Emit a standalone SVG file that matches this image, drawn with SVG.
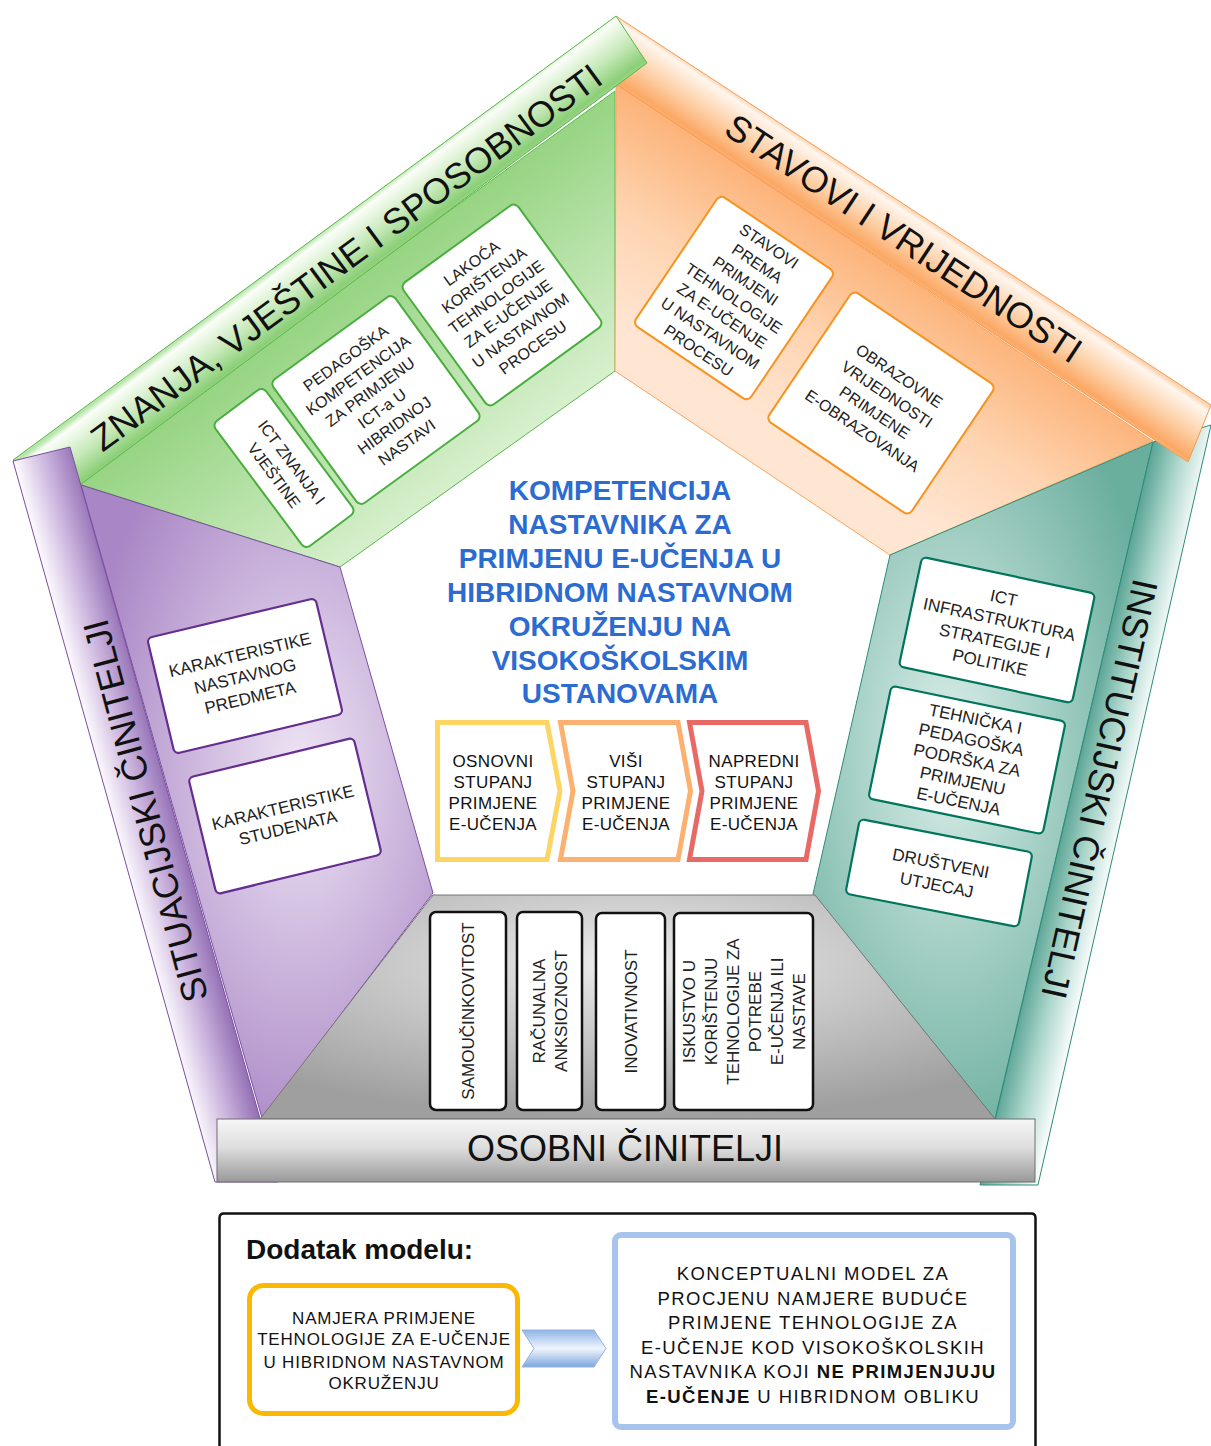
<svg xmlns="http://www.w3.org/2000/svg" width="1211" height="1446" viewBox="0 0 1211 1446">
<style>
  text { font-family: "Liberation Sans", Arial, sans-serif; }
  .bt { font-size: 16px; fill: #222; text-anchor: middle; }
  .bt17 { font-size: 17px; fill: #222; text-anchor: middle; }
  .band { font-size: 36px; fill: #111; text-anchor: middle; }
  .title { font-size: 28px; font-weight: bold; fill: #2c6bd1; text-anchor: middle; }
  .stage { font-size: 17px; fill: #111; text-anchor: middle; letter-spacing: 0.4px; }
  .gbox { fill: #fff; stroke: #4aae3f; stroke-width: 2; }
  .obox { fill: #fff; stroke: #f7931e; stroke-width: 2; }
  .pbox { fill: #fff; stroke: #642d8f; stroke-width: 2.2; }
  .tbox { fill: #fff; stroke: #00755b; stroke-width: 2.2; }
  .kbox { fill: #fff; stroke: #111; stroke-width: 2.5; }
  .add { font-size: 17px; fill: #111; text-anchor: middle; letter-spacing: 0.8px; }
  .add2 { font-size: 18.5px; fill: #111; text-anchor: middle; letter-spacing: 1.4px; }
</style>
<defs>
  <linearGradient id="gBand" gradientUnits="userSpaceOnUse" x1="314" y1="238" x2="350" y2="286">
    <stop offset="0" stop-color="#b9e4ab"/>
    <stop offset="0.1" stop-color="#fbfef9"/>
    <stop offset="0.55" stop-color="#c6e9b8"/>
    <stop offset="0.92" stop-color="#8ccf78"/>
    <stop offset="1" stop-color="#9ad688"/>
  </linearGradient>
  <linearGradient id="oBand" gradientUnits="userSpaceOnUse" x1="904" y1="204" x2="871" y2="254">
    <stop offset="0" stop-color="#fcd2ad"/>
    <stop offset="0.1" stop-color="#fff6ee"/>
    <stop offset="0.55" stop-color="#fdcfa4"/>
    <stop offset="0.92" stop-color="#fba865"/>
    <stop offset="1" stop-color="#fbb479"/>
  </linearGradient>
  <linearGradient id="pBand" gradientUnits="userSpaceOnUse" x1="111" y1="811" x2="169" y2="795">
    <stop offset="0" stop-color="#fbf9fd"/>
    <stop offset="0.5" stop-color="#ccb5de"/>
    <stop offset="1" stop-color="#9673b7"/>
  </linearGradient>
  <linearGradient id="tBand" gradientUnits="userSpaceOnUse" x1="1129" y1="789" x2="1074" y2="776">
    <stop offset="0" stop-color="#f6fbfa"/>
    <stop offset="0.5" stop-color="#acd6cb"/>
    <stop offset="1" stop-color="#5aa494"/>
  </linearGradient>
  <linearGradient id="gPanel" gradientUnits="userSpaceOnUse" x1="347" y1="285" x2="483" y2="470">
    <stop offset="0" stop-color="#96d482"/>
    <stop offset="1" stop-color="#d8f0ce"/>
  </linearGradient>
  <linearGradient id="oPanel" gradientUnits="userSpaceOnUse" x1="880" y1="260" x2="771" y2="428">
    <stop offset="0" stop-color="#fcb47b"/>
    <stop offset="0.5" stop-color="#fed4b1"/>
    <stop offset="1" stop-color="#ffe6d3"/>
  </linearGradient>
  <radialGradient id="pPanel" cx="0.62" cy="0.45" r="0.62">
    <stop offset="0" stop-color="#eee5f4"/>
    <stop offset="1" stop-color="#a986c5"/>
  </radialGradient>
  <radialGradient id="tPanel" cx="0.4" cy="0.45" r="0.62">
    <stop offset="0" stop-color="#daeee9"/>
    <stop offset="1" stop-color="#6aae9e"/>
  </radialGradient>
  <radialGradient id="kPanel" cx="0.5" cy="0.3" r="0.7">
    <stop offset="0" stop-color="#ececec"/>
    <stop offset="1" stop-color="#9f9f9f"/>
  </radialGradient>
  <linearGradient id="kBar" x1="0" y1="0" x2="0" y2="1">
    <stop offset="0" stop-color="#f6f6f6"/>
    <stop offset="0.45" stop-color="#dedede"/>
    <stop offset="1" stop-color="#999"/>
  </linearGradient>
  <linearGradient id="arrowG" x1="0" y1="0" x2="0" y2="1">
    <stop offset="0" stop-color="#8fb3e6"/>
    <stop offset="0.5" stop-color="#f0f5fd"/>
    <stop offset="1" stop-color="#7ea6df"/>
  </linearGradient>
</defs>

<!-- panels -->
<g id="panels">
  <polygon id="panel-green" points="79,479 615,91 615,371 340,567 82,485" fill="url(#gPanel)" stroke="#5cb84c" stroke-width="1"/>
  <polygon id="panel-orange" points="616,84 1153,441 890,555 615,371" fill="url(#oPanel)" stroke="#f7a35c" stroke-width="1"/>
  <polygon id="panel-teal" points="890,555 1153,442 995,1119 813,894" fill="url(#tPanel)" stroke="#2e8c78" stroke-width="1"/>
  <polygon id="panel-purple" points="81,485 340,567 433,893 262,1118" fill="url(#pPanel)" stroke="#7b4fa0" stroke-width="1"/>
  <polygon id="panel-gray" points="433,895 815,895 995,1119 260,1119" fill="url(#kPanel)" stroke="#777" stroke-width="1"/>
</g>

<!-- spines -->
<g id="spine-teal">
  <polygon points="1153,442 1211,425 1038,1185 980,1185" fill="url(#tBand)" stroke="#2e8c78" stroke-width="1"/>
  <text class="band" font-size="37" transform="translate(1100,789) rotate(102.5)" y="13">INSTITUCIJSKI ČINITELJI</text>
</g>
<g id="spine-orange">
  <polygon points="616,16 1211,405 1188,462 616,84" fill="url(#oBand)" stroke="#f79a4e" stroke-width="1"/>
  <text class="band" font-size="36.5" transform="translate(904,238) rotate(33.5)" y="13">STAVOVI I VRIJEDNOSTI</text>
</g>
<g id="spine-green">
  <polygon points="13,460 616,16 647,63 49,508" fill="url(#gBand)" stroke="#5cb84c" stroke-width="1"/>
  <text class="band" transform="translate(346,257) rotate(-36.4)" y="13">ZNANJA, VJEŠTINE I SPOSOBNOSTI</text>
</g>
<g id="spine-purple">
  <polygon points="13,461 70,447 278,1182 215,1182" fill="url(#pBand)" stroke="#7b4fa0" stroke-width="1"/>
  <text class="band" transform="translate(145,811) rotate(-105)" y="13">SITUACIJSKI ČINITELJI</text>
</g>
<g id="spine-gray">
  <rect x="217" y="1119" width="818" height="63" fill="url(#kBar)" stroke="#6e6e6e" stroke-width="1"/>
  <text class="band" font-size="38" x="625" y="1161">OSOBNI ČINITELJI</text>
</g>

<!-- green boxes -->
<g id="box-ict-znanja" transform="translate(284,468) rotate(53.3)">
  <rect class="gbox" x="-78" y="-31.5" width="156" height="63" rx="6"/>
  <text class="bt" font-size="17" y="-4">ICT ZNANJA I</text>
  <text class="bt" font-size="17" y="18">VJEŠTINE</text>
</g>
<g id="box-pedagoska" transform="translate(376,400) rotate(-36)">
  <rect class="gbox" x="-75.5" y="-76.5" width="151" height="153" rx="6"/>
  <text class="bt" y="-46">PEDAGOŠKA</text>
  <text class="bt" y="-25">KOMPETENCIJA</text>
  <text class="bt" y="-4.5">ZA PRIMJENU</text>
  <text class="bt" y="16">ICT-a U</text>
  <text class="bt" y="37">HIBRIDNOJ</text>
  <text class="bt" y="58">NASTAVI</text>
</g>
<g id="box-lakoca" transform="translate(502,305) rotate(-36)">
  <rect class="gbox" x="-71" y="-75.5" width="142" height="151" rx="6"/>
  <text class="bt" y="-46">LAKOĆA</text>
  <text class="bt" y="-25">KORIŠTENJA</text>
  <text class="bt" y="-4.5">TEHNOLOGIJE</text>
  <text class="bt" y="16">ZA E-UČENJE</text>
  <text class="bt" y="37">U NASTAVNOM</text>
  <text class="bt" y="58">PROCESU</text>
</g>

<!-- orange boxes -->
<g id="box-stavovi" transform="translate(734,298) rotate(34)">
  <rect class="obox" x="-69.5" y="-78" width="139" height="156" rx="6"/>
  <text class="bt" y="-57">STAVOVI</text>
  <text class="bt" y="-36">PREMA</text>
  <text class="bt" y="-15">PRIMJENI</text>
  <text class="bt" y="6">TEHNOLOGIJE</text>
  <text class="bt" y="27">ZA E-UČENJE</text>
  <text class="bt" y="48">U NASTAVNOM</text>
  <text class="bt" y="69">PROCESU</text>
</g>
<g id="box-obrazovne" transform="translate(881,403) rotate(34)">
  <rect class="obox" x="-86" y="-78" width="172" height="156" rx="6"/>
  <text class="bt" y="-27">OBRAZOVNE</text>
  <text class="bt" y="-5">VRIJEDNOSTI</text>
  <text class="bt" y="17">PRIMJENE</text>
  <text class="bt" y="39">E-OBRAZOVANJA</text>
</g>

<!-- teal boxes -->
<g id="box-ict-infra" transform="translate(997,630) rotate(12)">
  <rect class="tbox" x="-88.5" y="-56" width="177" height="112" rx="5"/>
  <text class="bt17" y="-27">ICT</text>
  <text class="bt17" y="-5">INFRASTRUKTURA</text>
  <text class="bt17" y="17">STRATEGIJE I</text>
  <text class="bt17" y="39">POLITIKE</text>
</g>
<g id="box-tehnicka" transform="translate(967,760) rotate(11.6)">
  <rect class="tbox" x="-89" y="-57.5" width="178" height="115" rx="5"/>
  <text class="bt17" y="-36">TEHNIČKA I</text>
  <text class="bt17" y="-15">PEDAGOŠKA</text>
  <text class="bt17" y="6">PODRŠKA ZA</text>
  <text class="bt17" y="27">PRIMJENU</text>
  <text class="bt17" y="48">E-UČENJA</text>
</g>
<g id="box-drustveni" transform="translate(939,873) rotate(11)">
  <rect class="tbox" x="-88" y="-38" width="176" height="76" rx="5"/>
  <text class="bt17" y="-4">DRUŠTVENI</text>
  <text class="bt17" y="18">UTJECAJ</text>
</g>

<!-- purple boxes -->
<g id="box-predmet" transform="translate(245,676) rotate(-13.4)">
  <rect class="pbox" x="-86.5" y="-59.5" width="173" height="119" rx="5"/>
  <text class="bt17" y="-16">KARAKTERISTIKE</text>
  <text class="bt17" y="6">NASTAVNOG</text>
  <text class="bt17" y="28">PREDMETA</text>
</g>
<g id="box-studenti" transform="translate(285,816) rotate(-13.6)">
  <rect class="pbox" x="-85" y="-60" width="170" height="120" rx="5"/>
  <text class="bt17" y="-3">KARAKTERISTIKE</text>
  <text class="bt17" y="18">STUDENATA</text>
</g>

<!-- gray boxes -->
<g id="box-samoucinkovitost">
  <rect class="kbox" x="430" y="912" width="76" height="198" rx="6"/>
  <text class="bt17" transform="translate(468,1011) rotate(-90)" y="6">SAMOUČINKOVITOST</text>
</g>
<g id="box-anksioznost">
  <rect class="kbox" x="517" y="912" width="65" height="198" rx="6"/>
  <g transform="translate(549.5,1011) rotate(-90)">
    <text class="bt17" y="-5">RAČUNALNA</text>
    <text class="bt17" y="17">ANKSIOZNOST</text>
  </g>
</g>
<g id="box-inovativnost">
  <rect class="kbox" x="596" y="913" width="69" height="197" rx="6"/>
  <text class="bt17" transform="translate(630.5,1011.5) rotate(-90)" y="6">INOVATIVNOST</text>
</g>
<g id="box-iskustvo">
  <rect class="kbox" x="674" y="913" width="139" height="197" rx="6"/>
  <g transform="translate(743.5,1011.5) rotate(-90)">
    <text class="bt17" y="-49">ISKUSTVO U</text>
    <text class="bt17" y="-27">KORIŠTENJU</text>
    <text class="bt17" y="-5">TEHNOLOGIJE ZA</text>
    <text class="bt17" y="17">POTREBE</text>
    <text class="bt17" y="39">E-UČENJA ILI</text>
    <text class="bt17" y="61">NASTAVE</text>
  </g>
</g>

<!-- title -->
<g id="title">
  <text class="title" x="620" y="500">KOMPETENCIJA</text>
  <text class="title" x="620" y="534">NASTAVNIKA ZA</text>
  <text class="title" x="620" y="568">PRIMJENU E-UČENJA U</text>
  <text class="title" x="620" y="602">HIBRIDNOM NASTAVNOM</text>
  <text class="title" x="620" y="636">OKRUŽENJU NA</text>
  <text class="title" x="620" y="670">VISOKOŠKOLSKIM</text>
  <text class="title" x="620" y="703">USTANOVAMA</text>
</g>

<!-- stages -->
<g id="stage-osnovni">
  <path d="M437.5,722.5 H547 L560,791 L547,859.5 H437.5 Z" fill="#fff" stroke="#fdd564" stroke-width="5"/>
  <text class="stage" x="493" y="767">OSNOVNI</text>
  <text class="stage" x="493" y="788">STUPANJ</text>
  <text class="stage" x="493" y="809">PRIMJENE</text>
  <text class="stage" x="493" y="830">E-UČENJA</text>
</g>
<g id="stage-visi">
  <path d="M560.5,722.5 H678 L690.5,791 L678,859.5 H560.5 L573,791 Z" fill="#fff" stroke="#fdb170" stroke-width="5"/>
  <text class="stage" x="626" y="767">VIŠI</text>
  <text class="stage" x="626" y="788">STUPANJ</text>
  <text class="stage" x="626" y="809">PRIMJENE</text>
  <text class="stage" x="626" y="830">E-UČENJA</text>
</g>
<g id="stage-napredni">
  <path d="M689.5,722.5 H806 L818.5,791 L806,859.5 H689.5 L702,791 Z" fill="#fff" stroke="#e86a66" stroke-width="5"/>
  <text class="stage" x="754" y="767">NAPREDNI</text>
  <text class="stage" x="754" y="788">STUPANJ</text>
  <text class="stage" x="754" y="809">PRIMJENE</text>
  <text class="stage" x="754" y="830">E-UČENJA</text>
</g>

<!-- addendum -->
<g id="addendum">
  <path d="M219.5,1452 V1218 Q219.5,1213.5 224,1213.5 H1031 Q1035.5,1213.5 1035.5,1218 V1452" fill="#fff" stroke="#111" stroke-width="2.5"/>
  <text x="246" y="1259" font-size="28" font-weight="bold" fill="#111">Dodatak modelu:</text>
</g>
<g id="box-namjera">
  <rect x="249.5" y="1285.5" width="268" height="128" rx="14" fill="#fff" stroke="#fbb800" stroke-width="5"/>
  <text class="add" x="384" y="1324">NAMJERA PRIMJENE</text>
  <text class="add" x="384" y="1345">TEHNOLOGIJE ZA E-UČENJE</text>
  <text class="add" x="384" y="1368">U HIBRIDNOM NASTAVNOM</text>
  <text class="add" x="384" y="1389">OKRUŽENJU</text>
</g>
<g id="connectors">
  <path d="M522,1330 H594 L606,1348.5 L594,1367 H522 L534,1348.5 Z" fill="url(#arrowG)" stroke="#94b4e2" stroke-width="1"/>
</g>
<g id="box-konceptualni">
  <rect x="615" y="1235" width="398" height="192" rx="6" fill="#fff" stroke="#a9c4ec" stroke-width="6"/>
  <text class="add2" x="813" y="1280">KONCEPTUALNI MODEL ZA</text>
  <text class="add2" x="813" y="1305">PROCJENU NAMJERE BUDUĆE</text>
  <text class="add2" x="813" y="1329">PRIMJENE TEHNOLOGIJE ZA</text>
  <text class="add2" x="813" y="1354">E-UČENJE KOD VISOKOŠKOLSKIH</text>
  <text class="add2" x="813" y="1378">NASTAVNIKA KOJI <tspan font-weight="bold">NE PRIMJENJUJU</tspan></text>
  <text class="add2" x="813" y="1403"><tspan font-weight="bold">E-UČENJE</tspan> U HIBRIDNOM OBLIKU</text>
</g>
</svg>
